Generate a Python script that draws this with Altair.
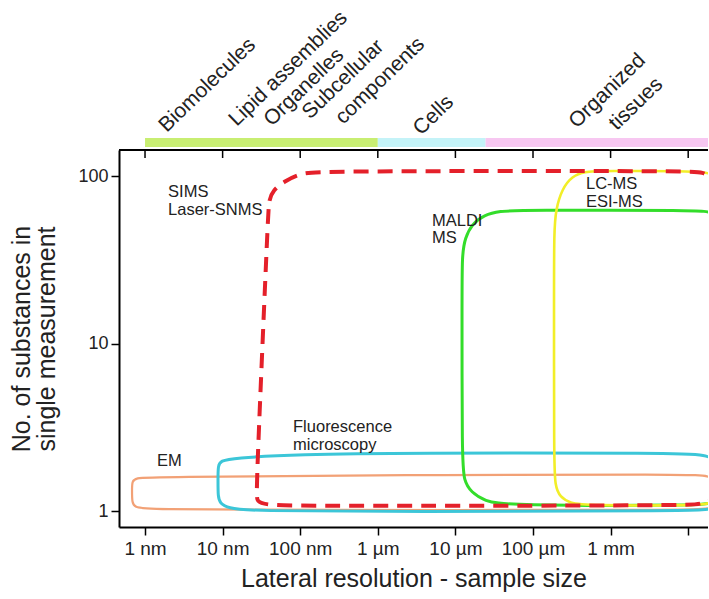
import altair as alt
import pandas as pd

FONT = "Liberation Sans"

# ---------------- axes ----------------
x_ticks_nm = [1, 10, 100, 1e3, 1e4, 1e5, 1e6, 1e7]
x_tick_labels = ["1 nm", "10 nm", "100 nm", "1 µm", "10 µm", "100 µm", "1 mm", ""]
y_ticks = [1, 10, 100]

# ---------------- size-category bands (nm) ----------------
band_start_nm = [1, 1000, 24500]
band_end_nm = [1000, 24500, 1.8e7]
band_colors = ["#c8ee72", "#c4f3f8", "#f7c7f1"]

band_labels = ["Biomolecules", "Lipid assemblies", "Organelles", "Subcellular",
               "components", "Cells", "Organized", "tissues"]
band_label_nm = [1.9, 15.2, 42.9, 134, 359, 3600, 365700, 1.2e6]

# ---------------- method outlines (x in nm, y = no. of substances) ----------------
em_x = [0.68, 0.68, 0.766, 1.16, 1932, 1.05e7, 2.03e7, 2.73e7, 2.73e7, 2.03e7, 1.05e7, 99.4, 1.0, 0.743, 0.68]
em_y = [1.335, 1.51, 1.574, 1.596, 1.640, 1.663, 1.618, 1.449, 1.132, 1.028, 1.014, 1.014, 1.021, 1.056, 1.116]

fl_x = [8.72, 8.72, 9.53, 13.2, 99.4, 1932, 7.84e6, 1.645e7, 2.42e7, 2.89e7, 2.89e7, 2.28e7, 1.42e7, 1932, 22.5, 11.7, 9.25, 8.72]
fl_y = [1.531, 1.882, 1.989, 2.072, 2.175, 2.220, 2.220, 2.160, 2.016, 1.757, 1.163, 1.028, 1.0, 0.993, 1.0, 1.042, 1.116, 1.212]

maldi_x = [12170, 12170, 13300, 16370, 23370, 37570, 67970, 1.42e7, 2.21e7, 2.98e7, 2.98e7, 2.21e7, 1.42e7, 43570, 24060, 15890, 12920, 12170]
maldi_y = [18.2, 33.8, 42.6, 51.7, 58.5, 61.8, 62.6, 62.6, 60.9, 50.9, 1.335, 1.116, 1.079, 1.079, 1.147, 1.298, 1.51, 2.016]

lcms_x = [186600, 186600, 197800, 236400, 318400, 467900, 730300, 1.42e7, 2.15e7, 2.89e7, 2.89e7, 2.15e7, 1.42e7, 467900, 299900, 222900, 192100, 186600]
lcms_y = [18.2, 47.6, 63.6, 83.6, 100, 106.4, 107.2, 107.2, 102.8, 88.3, 1.335, 1.116, 1.079, 1.079, 1.116, 1.212, 1.41, 2.016]

sims_x = [38.5, 39.6, 44.6, 63.7, 99.4, 180, 1.05e7, 1.55e7, 2.03e7, 2.73e7, 2.73e7, 2.03e7, 1.42e7, 1.05e7, 99.4, 35.2, 27.7, 26.9]
sims_y = [58.5, 71.9, 82.5, 93.3, 103.5, 107.2, 107.2, 105.7, 97.3, 82.5, 1.335, 1.163, 1.101, 1.079, 1.071, 1.086, 1.147, 1.246]

# ---------------- in-plot annotations ----------------
ann_text = ["SIMS", "Laser-SNMS", "MALDI", "MS", "LC-MS", "ESI-MS", "Fluorescence", "microscopy", "EM"]
ann_x_nm = [1.98, 1.98, 4990, 4990, 482000, 482000, 80.8, 80.8, 1.43]
ann_y = [74.9, 58.5, 50.3, 39.6, 83.3, 65.6, 2.98, 2.31, 1.857]

# ---------------- layout ----------------
W, H = 589, 377
XS = alt.Scale(type="log", domain=[0.462, 1.8e7], nice=False)
YS = alt.Scale(type="log", domain=[0.803, 143], nice=False)

label_expr = "[" + ",".join("'%s'" % t for t in x_tick_labels) + "][round(log(datum.value)/LN10)]"

X_AXIS = alt.Axis(
    values=x_ticks_nm, labelExpr=label_expr,
    title="Lateral resolution - sample size",
    labelFontSize=19, titleFontSize=25, titlePadding=8, labelPadding=4,
    labelFlush=False, labelOverlap=False)
Y_AXIS = alt.Axis(
    values=y_ticks, format="~g",
    title=["No. of substances in", "single measurement"],
    labelFontSize=18, titleFontSize=25, titlePadding=18, labelPadding=3,
    titleLineHeight=25)

layers = []

shapes = [
    (em_x, em_y, "#f2a176", 2.2, None),
    (fl_x, fl_y, "#3cc6d8", 3, None),
    (maldi_x, maldi_y, "#33dd2a", 3, None),
    (lcms_x, lcms_y, "#f2ee28", 2.6, None),
    (sims_x, sims_y, "#e4202a", 4, [15, 9]),
]

for xs, ys, col, sw, dash in shapes:
    df = pd.DataFrame({"x": xs, "y": ys, "i": list(range(len(xs)))})
    kw = dict(interpolate="basis-closed", clip=True, color=col, strokeWidth=sw)
    if dash:
        kw["strokeDash"] = dash
    layers.append(
        alt.Chart(df).mark_line(**kw).encode(
            x=alt.X("x:Q", scale=XS, axis=X_AXIS),
            y=alt.Y("y:Q", scale=YS, axis=Y_AXIS),
            order=alt.Order("i:Q"),
        )
    )

# category bands above the plot
bands = pd.DataFrame({"x": band_start_nm, "e": band_end_nm, "c": band_colors})
layers.append(
    alt.Chart(bands).mark_rect().encode(
        x=alt.X("x:Q", scale=XS, axis=X_AXIS),
        x2="e:Q",
        y=alt.value(-12),
        y2=alt.value(-3),
        color=alt.Color("c:N", scale=None),
    )
)

# top frame and inward ticks
layers.append(
    alt.Chart(pd.DataFrame({"a": [0]})).mark_rule(color="black", strokeWidth=2).encode(
        x=alt.value(0), x2=alt.value(W), y=alt.value(0)
    )
)
layers.append(
    alt.Chart(pd.DataFrame({"x": x_ticks_nm})).mark_rule(color="black", strokeWidth=1.5).encode(
        x=alt.X("x:Q", scale=XS, axis=X_AXIS), y=alt.value(0), y2=alt.value(8)
    )
)

# annotations inside plot
ann = pd.DataFrame({"t": ann_text, "x": ann_x_nm, "y": ann_y})
layers.append(
    alt.Chart(ann).mark_text(align="left", baseline="alphabetic", fontSize=16.5,
                             font=FONT, color="#222222").encode(
        x=alt.X("x:Q", scale=XS, axis=X_AXIS),
        y=alt.Y("y:Q", scale=YS, axis=Y_AXIS),
        text="t:N",
    )
)

# rotated category labels above the plot (pixel offsets above the frame)
label_dy = [-17, -23, -23, -30, -25, -14, -21, -19]
lab = pd.DataFrame({"t": band_labels, "x": band_label_nm, "dy": label_dy})
layers.append(
    alt.Chart(lab).mark_text(
        align="left", baseline="alphabetic", angle=316, fontSize=21,
        font=FONT, color="#222222"
    ).encode(
        x=alt.X("x:Q", scale=XS, axis=X_AXIS),
        y=alt.Y("dy:Q", scale=None),
        text="t:N",
    )
)

chart = alt.layer(*layers).properties(
    width=W, height=H,
    autosize=alt.AutoSizeParams(type="none"),
    padding={"left": 119, "top": 150, "right": 0, "bottom": 65},
).configure_view(stroke=None).configure_axis(
    labelFont=FONT, titleFont=FONT, labelColor="#222222", titleColor="#222222",
    titleFontWeight="normal", domainColor="black", domainWidth=2,
    tickColor="black", tickWidth=1.5, tickSize=8, grid=False,
)

chart.save("out.html", embed_options={"renderer": "svg", "actions": False})
